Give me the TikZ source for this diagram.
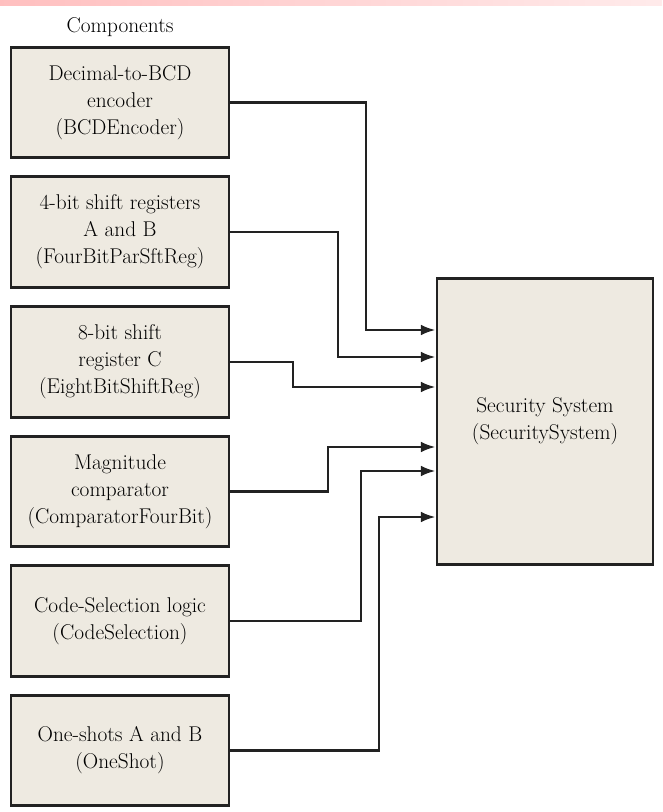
\documentclass[tikz,border=0pt]{standalone}
\usetikzlibrary{arrows.meta}
\definecolor{boxfill}{HTML}{EEEAE1}
\definecolor{edge}{HTML}{222222}
\begin{document}
\begin{tikzpicture}[x=0.75pt,y=-0.75pt,
  comp/.style={draw=edge,line width=2.2pt,fill=boxfill,minimum width=163.5pt,minimum height=83pt,align=center,inner sep=0pt,font=\fontsize{16}{20.3}\selectfont},
  wire/.style={draw=edge,line width=1.8pt,-{Latex[length=11pt,width=8pt]}}]
\useasboundingbox (0,0) rectangle (662,812);
\shade[left color=red!25,right color=red!8] (0,0) rectangle (662,6);
\node[font=\fontsize{16}{20}\selectfont] (title) at (120,27) {Components};
\node[comp] (b1) at (120,102.5) {Decimal-to-BCD\\encoder\\(BCDEncoder)};
\node[comp] (b2) at (120,232) {4-bit shift registers\\A and B\\(FourBitParSftReg)};
\node[comp] (b3) at (120,362) {8-bit shift\\register C\\(EightBitShiftReg)};
\node[comp] (b4) at (120,491.5) {Magnitude\\comparator\\(ComparatorFourBit)};
\node[comp] (b5) at (120,621) {Code-Selection logic\\(CodeSelection)};
\node[comp] (b6) at (120,750.5) {One-shots A and B\\(OneShot)};
\node[comp,minimum width=162pt,minimum height=214pt] (s) at (545,421.5) {Security System\\(SecuritySystem)};
\draw[wire] (b1.east) -| (366,330) -- (s.west |- 0,330);
\draw[wire] (b2.east) -| (338,357) -- (s.west |- 0,357);
\draw[wire] (b3.east) -| (293,387) -- (s.west |- 0,387);
\draw[wire] (b4.east) -| (328,447) -- (s.west |- 0,447);
\draw[wire] (b5.east) -| (361,471) -- (s.west |- 0,471);
\draw[wire] (b6.east) -| (379,517) -- (s.west |- 0,517);
\end{tikzpicture}
\end{document}
